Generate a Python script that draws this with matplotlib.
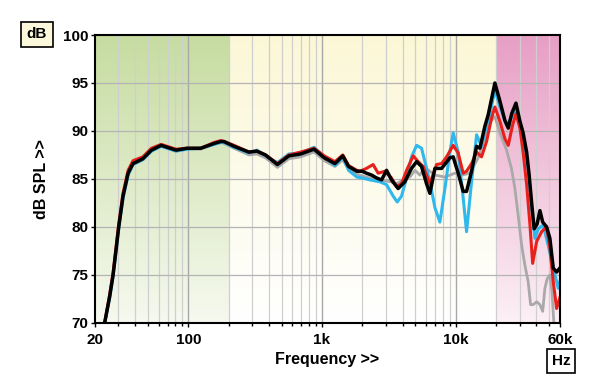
import numpy as np
import matplotlib
matplotlib.use("Agg")
import matplotlib.pyplot as plt
from matplotlib.ticker import FixedLocator, NullFormatter

plt.rcParams["font.family"] = ["Liberation Sans", "DejaVu Sans"]

# ── Data ───────────────────────────────────────────────────────
freq_black = [23.7, 25.8, 27.4, 30.2, 32.5, 35.5, 38.6, 45.7, 53, 62.7, 81, 98, 124, 156, 175, 185,
              220, 284, 326, 378, 464, 565, 692, 872, 1040, 1250, 1430, 1580, 1820, 2000,
              2150, 2350, 2560, 2790, 3040, 3310, 3710, 4160, 4670, 5100, 5550, 6050, 6410,
              6990, 7840, 9040, 9570, 10430, 11370, 12050, 13130, 14320, 15170, 16520, 17500,
              19620, 21400, 23300, 24700, 26200, 28200, 30200, 31900, 33900, 35400, 36900,
              38600, 40600, 42600, 44700, 47800, 50600, 53600, 56800, 60000]
spl_black = [70.0, 72.7, 75.0, 80.0, 83.2, 85.6, 86.6, 87.1, 88.0, 88.5, 88.0, 88.2, 88.2, 88.7, 88.9, 88.9,
             88.4, 87.8, 87.9, 87.5, 86.5, 87.4, 87.6, 88.1, 87.2, 86.6, 87.4, 86.3, 85.8, 85.8,
             85.6, 85.4, 85.1, 84.9, 85.9, 84.9, 84.0, 84.7, 86.1, 86.8, 86.3, 84.5, 83.5,
             86.1, 86.1, 87.2, 87.3, 85.6, 83.7, 83.7, 85.8, 88.4, 88.2, 90.5, 91.7,
             95.0, 93.1, 91.1, 90.3, 91.8, 92.9, 91.0, 89.8, 87.8, 85.4, 82.6,
             79.8, 80.3, 81.7, 80.5, 80.0, 78.8, 75.7, 75.3, 75.7]

freq_blue = [23.7, 25.8, 27.4, 30.2, 32.5, 35.5, 38.6, 45.7, 53, 62.7, 81, 98, 124, 156, 175, 185,
             220, 284, 326, 378, 464, 565, 692, 872, 1040, 1250, 1430, 1580, 1820, 2000,
             2280, 2710, 3040, 3410, 3650, 3930, 4290, 4670, 5100, 5550, 6050, 6410, 6990,
             7610, 8300, 9040, 9570, 10430, 11370, 12050, 13130, 14320, 15600, 16520, 18000,
             19620, 21400, 24000, 25400, 28200, 31100, 34800, 36900, 39100, 41400, 45100,
             49100, 53600, 58400, 60000]
spl_blue = [70.0, 72.6, 74.9, 79.9, 83.0, 85.4, 86.5, 87.0, 87.9, 88.4, 87.9, 88.1, 88.2, 88.6, 88.8, 88.8,
            88.3, 87.7, 88.0, 87.4, 86.7, 87.6, 87.7, 88.3, 87.3, 86.4, 87.3, 85.9, 85.2, 85.1,
            84.9, 84.7, 84.4, 83.2, 82.6, 83.2, 85.1, 87.3, 88.5, 88.2, 86.1, 84.7, 82.0,
            80.5, 84.0, 87.8, 89.8, 87.8, 83.0, 79.5, 84.7, 89.6, 88.4, 89.9, 91.7,
            94.3, 92.5, 90.6, 91.1, 92.4, 90.3, 86.1, 82.0, 78.8, 79.8, 80.2,
            78.1, 75.7, 73.6, 74.3]

freq_red = [23.7, 25.8, 27.4, 30.2, 32.5, 35.5, 38.6, 45.7, 53, 62.7, 81, 98, 124, 156, 175, 185,
            220, 284, 326, 378, 464, 565, 692, 872, 1040, 1250, 1430, 1580, 1820, 1920,
            2150, 2410, 2630, 2950, 3310, 3610, 3930, 4290, 4810, 5240, 5710, 6410, 7190,
            7840, 8540, 9570, 10430, 11370, 12050, 13130, 14320, 15600, 17000, 18500,
            19620, 21400, 23300, 24700, 26600, 28200, 30200, 31900, 33900, 35900, 37600,
            40300, 43900, 47800, 50600, 53600, 56800, 60000]
spl_red = [70.0, 72.9, 75.2, 80.3, 83.5, 85.9, 86.9, 87.3, 88.2, 88.6, 88.1, 88.2, 88.2, 88.8, 89.0, 88.9,
           88.5, 87.8, 87.9, 87.5, 86.6, 87.5, 87.8, 88.2, 87.4, 86.8, 87.5, 86.4, 85.9, 85.8,
           86.1, 86.5, 85.6, 85.8, 85.1, 84.2, 84.5, 85.9, 87.4, 86.8, 86.3, 84.5, 86.5,
           86.6, 87.3, 88.5, 87.7, 85.6, 85.8, 86.6, 87.8, 87.3, 88.9, 91.3,
           92.5, 91.0, 89.2, 88.5, 90.6, 91.8, 90.3, 87.8, 84.4, 80.2, 76.2,
           78.5, 79.5, 80.0, 77.8, 74.3, 71.5, 72.6]

freq_gray = [23.7, 25.8, 27.4, 30.2, 32.5, 35.5, 38.6, 45.7, 53, 62.7, 81, 98, 124, 156, 175, 185,
             220, 284, 326, 378, 464, 565, 692, 872, 1040, 1250, 1430, 1580, 1820, 1920,
             2280, 2710, 3270, 3610, 4050, 4540, 4960, 5390, 5880, 6990, 8300, 9860, 11060,
             12760, 14720, 17000, 18500, 19620, 21400, 24000, 26100, 27700, 29300, 31100,
             32900, 34800, 36300, 37900, 40300, 42600, 44700, 46400, 48300, 50600, 52400,
             54700, 57000, 60000]
spl_gray = [70.0, 72.6, 74.9, 79.9, 83.1, 85.5, 86.5, 87.0, 87.9, 88.4, 87.9, 88.1, 88.1, 88.6, 88.8, 88.7,
            88.2, 87.5, 87.6, 87.2, 86.2, 87.1, 87.3, 87.8, 86.9, 86.3, 87.0, 86.0, 85.5, 85.4,
            85.1, 84.9, 84.7, 84.5, 84.9, 85.2, 85.9, 85.4, 86.2, 85.4, 85.2, 85.6, 85.4,
            85.6, 87.2, 89.9, 91.1, 91.5, 89.8, 88.0, 86.1, 84.0, 81.2, 78.1,
            76.0, 74.3, 71.9, 71.9, 72.2, 71.9, 71.2, 73.6, 74.6, 75.0, 73.3,
            69.0, 67.5, 68.0]

x_ticks = [20, 100, 1000, 10000, 60000]
x_tick_labels = ["20", "100", "1k", "10k", "60k"]
y_ticks = [70, 75, 80, 85, 90, 95, 100]
minor_x = [30, 40, 50, 60, 70, 80, 90, 200, 300, 400, 500, 600, 700, 800, 900,
           2000, 3000, 4000, 5000, 6000, 7000, 8000, 9000,
           20000, 30000, 40000, 50000]

# frequency bands: (start, end, top colour, bottom colour)
bands = [(20, 200, "#c6dca0", "#f6f9ef"),
         (200, 20000, "#fbf7d6", "#ffffff"),
         (20000, 60000, "#e79fc5", "#fcf0f5")]

F_MIN, F_MAX = 20, 60000
Y_MIN, Y_MAX = 70, 100

# ── Figure ─────────────────────────────────────────────────────
fig = plt.figure(figsize=(6.0, 3.89), dpi=100)
ax = fig.add_axes([0.158, 0.170, 0.775, 0.740])
ax.set_xscale("log")

def to_frac(f):
    return np.log10(f / F_MIN) / np.log10(F_MAX / F_MIN)

for f0, f1, c_top, c_bot in bands:
    top = np.array(matplotlib.colors.to_rgb(c_top))
    bot = np.array(matplotlib.colors.to_rgb(c_bot))
    t = np.linspace(0, 1, 256)[:, None]
    grad = (top * (1 - t) + bot * t)[:, None, :]
    ax.imshow(grad, extent=[to_frac(f0), to_frac(f1), 0, 1], transform=ax.transAxes,
              aspect="auto", interpolation="bilinear", zorder=0)

ax.set_xlim(F_MIN, F_MAX)
ax.set_ylim(Y_MIN, Y_MAX)

# grid
for f in minor_x:
    ax.axvline(f, color="#cfcfcf", linewidth=0.9, zorder=1)
for f in [100, 1000, 10000]:
    ax.axvline(f, color="#a8a8a8", linewidth=1.0, zorder=1)
for y in y_ticks[1:-1]:
    ax.axhline(y, color="#b4b4b4", linewidth=0.9, zorder=1)

# curves
ax.plot(freq_gray, spl_gray, color="#a9a9a9", linewidth=2.0, zorder=2, solid_joinstyle="round")
ax.plot(freq_blue, spl_blue, color="#2fb8ec", linewidth=2.2, zorder=3, solid_joinstyle="round")
ax.plot(freq_red, spl_red, color="#e8201c", linewidth=2.2, zorder=4, solid_joinstyle="round")
ax.plot(freq_black, spl_black, color="#000000", linewidth=2.5, zorder=5, solid_joinstyle="round")

# axes & ticks
ax.xaxis.set_major_locator(FixedLocator(x_ticks))
ax.set_xticklabels(x_tick_labels)
ax.xaxis.set_minor_locator(FixedLocator(minor_x))
ax.xaxis.set_minor_formatter(NullFormatter())
ax.set_yticks(y_ticks)
ax.tick_params(axis="both", which="major", direction="out", length=3, width=1,
               labelsize=11, pad=1.5)
ax.tick_params(axis="x", which="major", pad=4)
ax.tick_params(axis="x", which="minor", direction="out", length=2.5, width=1)
for lab in ax.get_xticklabels() + ax.get_yticklabels():
    lab.set_fontweight("bold")
for s in ax.spines.values():
    s.set_linewidth(1.5)
    s.set_zorder(6)

ax.set_xlabel("Frequency >>", fontsize=11.5, fontweight="bold", labelpad=4)
ax.set_ylabel("dB SPL >>", fontsize=11.5, fontweight="bold", labelpad=10)

fig.text(37 / 600, 1 - 34.5 / 389, "dB", ha="center", va="center", fontsize=11,
         fontweight="bold",
         bbox=dict(boxstyle="square,pad=0.35", facecolor="#fcf8dc", edgecolor="black", linewidth=1.2))
fig.text(561 / 600, 1 - 361 / 389, "Hz", ha="center", va="center", fontsize=11,
         fontweight="bold",
         bbox=dict(boxstyle="square,pad=0.3", facecolor="white", edgecolor="black", linewidth=1.2))

fig.savefig("out.png", dpi=100)
